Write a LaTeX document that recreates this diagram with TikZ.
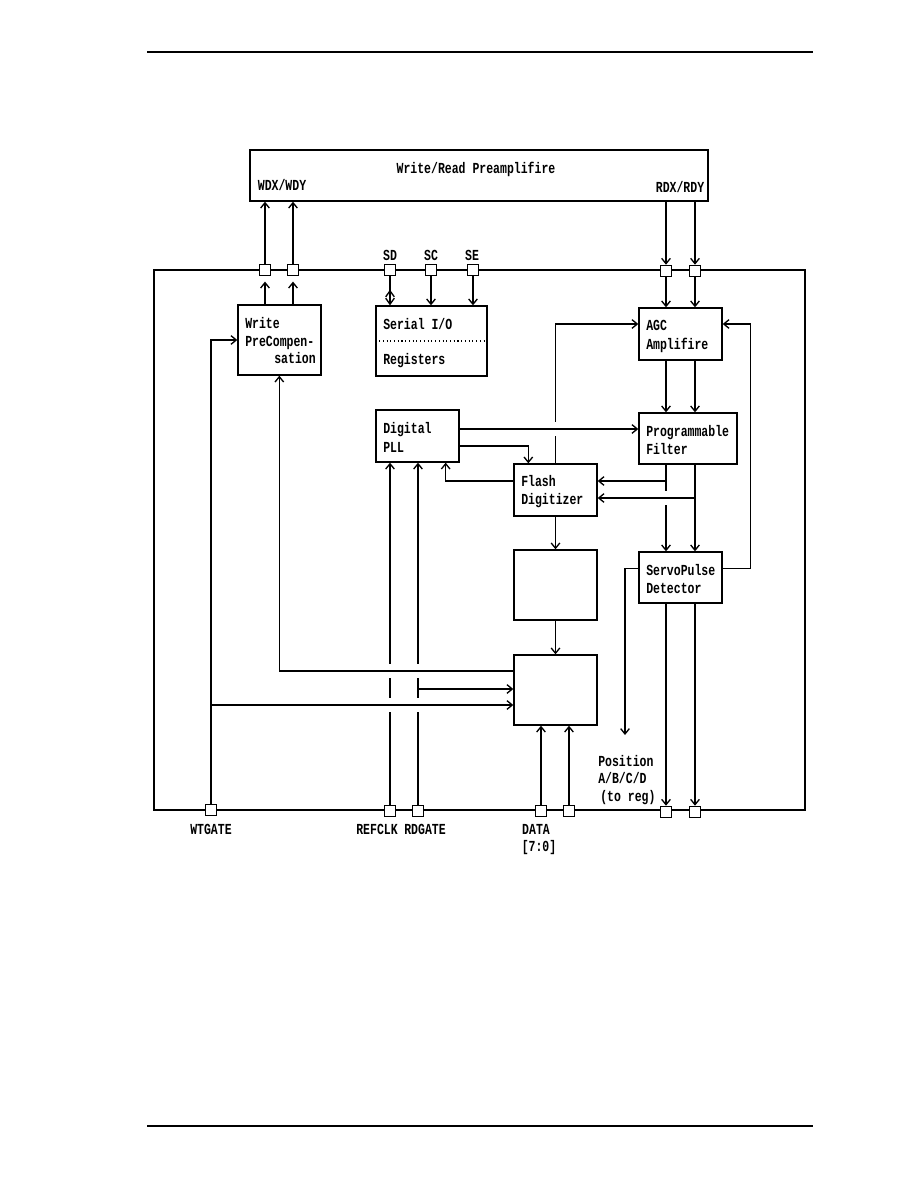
\documentclass[tikz,border=0pt]{standalone}
\usepackage{fontspec}
\setmainfont{Liberation Serif}
\newfontfamily\dmono[FakeStretch=0.75]{Liberation Mono}
\usetikzlibrary{arrows.meta,calc,fit}
\begin{document}
\begin{tikzpicture}[x=0.75pt,y=-0.75pt,
  box/.style={draw,line width=1pt,inner sep=0pt},
  pinbox/.style={draw,fill=white,line width=0.9pt,minimum size=8.5pt,inner sep=0pt},
  txt/.style={font=\dmono\bfseries\fontsize{11.5}{13}\selectfont,inner sep=0pt,text height=7.6pt,text depth=0pt},
  ln/.style={line width=1pt},
  arr/.style={ln,-{Straight Barb[length=4pt,width=6.5pt]}},
  dblarr/.style={ln,-{Straight Barb[reversed,length=4.5pt,width=6.5pt]Straight Barb[length=4.5pt,width=6.5pt]}},
  gapn/.style={fill=white,draw=none,minimum width=3pt,minimum height=11pt,inner sep=0pt}]
\fill[white] (0,0) rectangle (918,1188);
\useasboundingbox (0,0) rectangle (918,1188);
% page rules
\draw[line width=1.1pt] (147,52) -- (813,52);
\draw[line width=2.2pt] (147,1126) -- (813,1126);
% blocks
\node[box,fit={(250,150)(708,201)}] (pre) {};
\node[box,fit={(154,270)(805,810)}] (chip) {};
\node[box,fit={(238,305)(321,375)}] (wpc) {};
\node[box,fit={(376,306)(487,376)}] (ser) {};
\node[box,fit={(639,308)(722,360)}] (agc) {};
\node[box,fit={(639,413)(737,464)}] (filt) {};
\node[box,fit={(376,410)(459,462)}] (pll) {};
\node[box,fit={(514,464)(597,516)}] (fla) {};
\node[box,fit={(639,552)(722,603)}] (spd) {};
\node[box,fit={(514,550)(597,620)}] (b3) {};
\node[box,fit={(514,655)(597,725)}] (b4) {};
\draw[dotted,line width=0.8pt] (ser.west) -- (ser.east);
% pins
\node[pinbox] (pWX) at (265,270) {};
\node[pinbox] (pWY) at (293,270) {};
\node[pinbox] (pSD) at (390,270) {};
\node[pinbox] (pSC) at (431,270) {};
\node[pinbox] (pSE) at (473,270) {};
\node[pinbox] (pRX) at (666,271) {};
\node[pinbox] (pRY) at (695,271) {};
\node[pinbox] (pWT) at (211,810) {};
\node[pinbox] (pREF) at (390,811) {};
\node[pinbox] (pRDG) at (418,811) {};
\node[pinbox] (pD1) at (541,811) {};
\node[pinbox] (pD2) at (569,811) {};
\node[pinbox] (pBX) at (666,812) {};
\node[pinbox] (pBY) at (695,812) {};
% helper coordinates
\coordinate (pllA) at ($(pll.east)+(0,-7)$);
\coordinate (pllB) at ($(pll.east)+(0,10)$);
\coordinate (flaIn) at ($(fla.north west)+(15,0)$);
\coordinate (flaOut) at ($(fla.west)+(0,-9)$);
\coordinate (pllIn3) at ($(pll.south east)+(-14,0)$);
\coordinate (agcInL) at ($(agc.west)+(0,-10)$);
\coordinate (agcR) at ($(agc.east)+(0,-10)$);
\coordinate (flaR1) at ($(fla.east)+(0,-9)$);
\coordinate (flaR2) at ($(fla.east)+(0,8)$);
\coordinate (spdR) at ($(spd.east)+(0,-9)$);
\coordinate (spdL) at ($(spd.west)+(0,-9)$);
\coordinate (posEnd) at (625,735);
\coordinate (b4L1) at ($(b4.west)+(0,-19)$);
\coordinate (b4L2) at ($(b4.west)+(0,-1)$);
\coordinate (b4L3) at ($(b4.west)+(0,15)$);
\coordinate (wpcB) at ($(wpc.south west)+(42,0)$);
% preamp links
\draw[arr] (pWX.north) -- (pWX.north |- pre.south);
\draw[arr] (pWY.north) -- (pWY.north |- pre.south);
\draw[arr] (pre.south -| pRX) -- (pRX.north);
\draw[arr] (pre.south -| pRY) -- (pRY.north);
\draw[arr,shorten >=4pt] (wpc.north -| pWX) -- (pWX.south);
\draw[arr,shorten >=4pt] (wpc.north -| pWY) -- (pWY.south);
\draw[dblarr] (pSD.south) -- (pSD.south |- ser.north);
\draw[arr] (pSC.south) -- (pSC.south |- ser.north);
\draw[arr] (pSE.south) -- (pSE.south |- ser.north);
\draw[arr] (pRX.south) -- (pRX.south |- agc.north);
\draw[arr] (pRY.south) -- (pRY.south |- agc.north);
\draw[arr] (agc.south -| pRX) -- (filt.north -| pRX);
\draw[arr] (agc.south -| pRY) -- (filt.north -| pRY);
% verticals with crossings
\draw[arr] (fla.north) |- (agcInL);
\draw[arr] (filt.south -| pRX) -- (spd.north -| pRX);
\draw[arr] (pREF.north) -- (pREF.north |- pll.south);
\draw[arr] (pRDG.north) -- (pRDG.north |- pll.south);
\node[gapn] (g1) at (fla.north |- pllA) {};
\node[gapn] (g2) at (pRX |- flaR2) {};
\node[gapn] (g3) at (pREF |- b4L1) {};
\node[gapn] (g4) at (pREF |- b4L3) {};
\node[gapn] (g5) at (pRDG |- b4L1) {};
\node[gapn] (g6) at (pRDG |- b4L3) {};
% other links
\draw[arr] (pllA) -- (pllA -| filt.west);
\draw[arr] (pllB) -| (flaIn);
\draw[arr] (flaOut) -| (pllIn3);
\draw[arr] (filt.south -| pRX) |- (flaR1);
\draw[arr] (filt.south -| pRY) |- (flaR2);
\draw[arr] (filt.south -| pRY) -- (spd.north -| pRY);
\draw[arr] (spdR) -- ++(28,0) |- (agcR);
\draw[arr] (spdL) -| (posEnd);
\draw[arr] (spd.south -| pBX) -- (pBX.north);
\draw[arr] (spd.south -| pBY) -- (pBY.north);
\draw[arr] (fla.south) -- (b3.north);
\draw[arr] (b3.south) -- (b4.north);
\draw[arr] (b4L1) -| (wpcB);
\draw[arr] (pRDG |- b4L2) -- (b4L2);
\draw[arr] (pWT.north) |- (wpc.west);
\draw[arr] (pWT |- b4L3) -- (b4L3);
\draw[arr] (pD1.north) -- (pD1.north |- b4.south);
\draw[arr] (pD2.north) -- (pD2.north |- b4.south);
% texts
\node[txt] (tPre) at (476,168) {Write/Read Preamplifire};
\node[txt] (tWD) at (282,185) {WDX/WDY};
\node[txt] (tRD) at (680,187) {RDX/RDY};
\node[txt] (tSD) at (390,255) {SD};
\node[txt] (tSC) at (431,255) {SC};
\node[txt] (tSE) at (472,255) {SE};
\node[txt,anchor=west] (tW1) at (245,323) {Write};
\node[txt,anchor=west] (tW2) at (245,341) {PreCompen-};
\node[txt,anchor=east] (tW3) at (316,358) {sation};
\node[txt,anchor=west] (tS1) at (383,324) {Serial I/O};
\node[txt,anchor=west] (tS2) at (383,359) {Registers};
\node[txt,anchor=west] (tA1) at (646,325) {AGC};
\node[txt,anchor=west] (tA2) at (646,344) {Amplifire};
\node[txt,anchor=west] (tP1) at (383,428) {Digital};
\node[txt,anchor=west] (tP2) at (383,447) {PLL};
\node[txt,anchor=west] (tF1) at (646,431) {Programmable};
\node[txt,anchor=west] (tF2) at (646,449) {Filter};
\node[txt,anchor=west] (tD1) at (521,481) {Flash};
\node[txt,anchor=west] (tD2) at (521,499) {Digitizer};
\node[txt,anchor=west] (tV1) at (646,570) {ServoPulse};
\node[txt,anchor=west] (tV2) at (646,588) {Detector};
\node[txt,anchor=west] (tQ1) at (598,761) {Position};
\node[txt,anchor=west] (tQ2) at (598,778) {A/B/C/D};
\node[txt,anchor=west] (tQ3) at (600,796) {(to reg)};
\node[txt] (tWT) at (211,829) {WTGATE};
\node[txt] (tRC) at (377,829) {REFCLK};
\node[txt] (tRG) at (425,829) {RDGATE};
\node[txt] (tDA) at (536,829) {DATA};
\node[txt] (tDB) at (539,846) {[7:0]};
\end{tikzpicture}
\end{document}
